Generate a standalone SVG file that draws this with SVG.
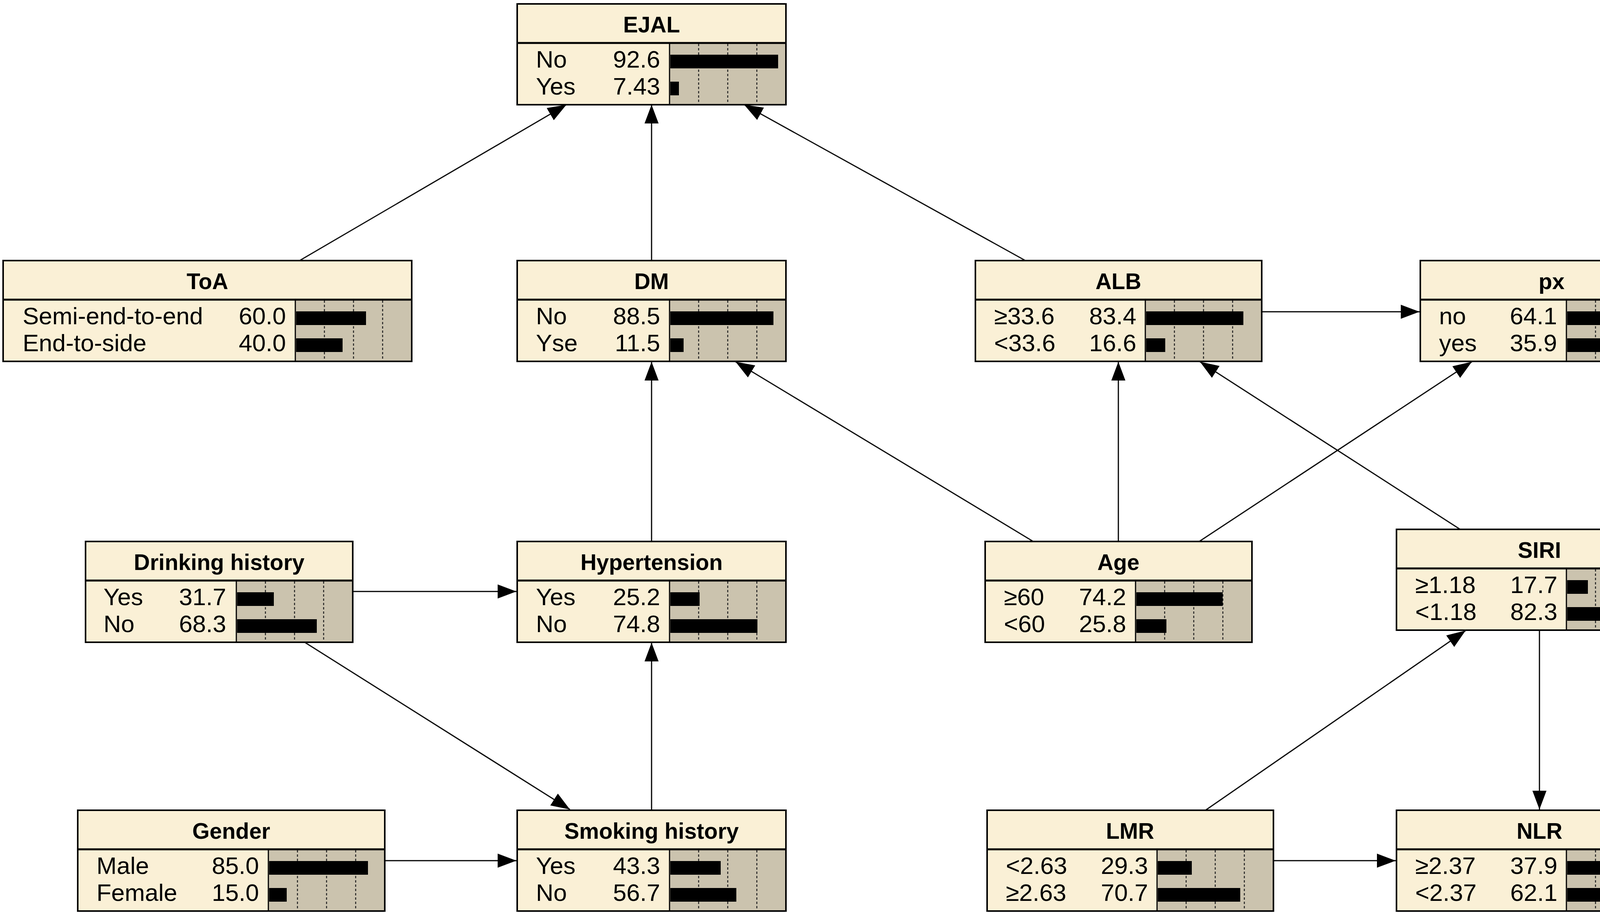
<svg xmlns="http://www.w3.org/2000/svg" width="4317" height="2337" viewBox="0 0 4317 2337">
<defs>
<style>
.bg{fill:#ffffff}
.nb{fill:#FAF0D6}
.bb{fill:#CBC3AE}
.frame{fill:none;stroke:#000;stroke-width:4}
.div{stroke:#000;stroke-width:5}
.sep{stroke:#000;stroke-width:3}
.grid{stroke:#222;stroke-width:2.5;stroke-dasharray:6 5}
.bar{fill:#000}
.t{font-family:"Liberation Sans",Arial,sans-serif;font-weight:bold;font-size:57px;fill:#000;text-anchor:middle}
.s{font-family:"Liberation Sans",Arial,sans-serif;font-size:62px;fill:#000}
.v{font-family:"Liberation Sans",Arial,sans-serif;font-size:62px;fill:#000;text-anchor:end}
.e{stroke:#000;stroke-width:3;fill:none;marker-end:url(#ah)}
</style>
<marker id="ah" markerUnits="userSpaceOnUse" markerWidth="50" markerHeight="36" refX="48" refY="18" orient="auto">
<path d="M0,0 L48,18 L0,36 Z" fill="#000"/>
</marker>
</defs>
<rect class="bg" x="0" y="0" width="4317" height="2337"/>

<g id="connectors">
<line class="e" x1="767" y1="667" x2="1450" y2="268"/>
<line class="e" x1="1668" y1="667" x2="1668" y2="268"/>
<line class="e" x1="2625" y1="667" x2="1905" y2="268"/>
<line class="e" x1="3230" y1="798" x2="3634" y2="798"/>
<line class="e" x1="1668" y1="1386" x2="1668" y2="926"/>
<line class="e" x1="2645" y1="1386" x2="1883" y2="926"/>
<line class="e" x1="2863" y1="1386" x2="2863" y2="926"/>
<line class="e" x1="3070" y1="1386" x2="3768" y2="926"/>
<line class="e" x1="3738" y1="1355" x2="3072" y2="926"/>
<line class="e" x1="903" y1="1514" x2="1322" y2="1514"/>
<line class="e" x1="780" y1="1644" x2="1459" y2="2072"/>
<line class="e" x1="1668" y1="2074" x2="1668" y2="1645"/>
<line class="e" x1="985" y1="2203" x2="1322" y2="2203"/>
<line class="e" x1="3086" y1="2074" x2="3752" y2="1614"/>
<line class="e" x1="3941" y1="1613" x2="3941" y2="2072"/>
<line class="e" x1="3260" y1="2203" x2="3573" y2="2203"/>
</g>

<g id="node-EJAL" transform="translate(1324,10)">
<rect class="nb" x="0" y="0" width="688" height="258"/>
<rect class="bb" x="390" y="100" width="298" height="158"/>
<line class="grid" x1="464.5" y1="102" x2="464.5" y2="256"/><line class="grid" x1="539" y1="102" x2="539" y2="256"/><line class="grid" x1="613.5" y1="102" x2="613.5" y2="256"/>
<rect class="bar" x="392" y="130" width="276" height="35"/><rect class="bar" x="392" y="199" width="22" height="35"/>
<line class="div" x1="0" y1="100" x2="688" y2="100"/><line class="sep" x1="390" y1="100" x2="390" y2="258"/>
<rect class="frame" x="0" y="0" width="688" height="258"/>
<text class="t" x="344" y="73">EJAL</text>
<text class="s" x="48" y="163">No</text><text class="v" x="366" y="163">92.6</text>
<text class="s" x="48" y="232">Yes</text><text class="v" x="366" y="232">7.43</text>
</g>

<g id="node-ToA" transform="translate(8,667)">
<rect class="nb" x="0" y="0" width="1046" height="258"/>
<rect class="bb" x="748" y="100" width="298" height="158"/>
<line class="grid" x1="822.5" y1="102" x2="822.5" y2="256"/><line class="grid" x1="897" y1="102" x2="897" y2="256"/><line class="grid" x1="971.5" y1="102" x2="971.5" y2="256"/>
<rect class="bar" x="750" y="130" width="179" height="35"/><rect class="bar" x="750" y="199" width="119" height="35"/>
<line class="div" x1="0" y1="100" x2="1046" y2="100"/><line class="sep" x1="748" y1="100" x2="748" y2="258"/>
<rect class="frame" x="0" y="0" width="1046" height="258"/>
<text class="t" x="523" y="73">ToA</text>
<text class="s" x="50" y="163">Semi-end-to-end</text><text class="v" x="724" y="163">60.0</text>
<text class="s" x="50" y="232">End-to-side</text><text class="v" x="724" y="232">40.0</text>
</g>

<g id="node-DM" transform="translate(1324,667)">
<rect class="nb" x="0" y="0" width="688" height="258"/>
<rect class="bb" x="390" y="100" width="298" height="158"/>
<line class="grid" x1="464.5" y1="102" x2="464.5" y2="256"/><line class="grid" x1="539" y1="102" x2="539" y2="256"/><line class="grid" x1="613.5" y1="102" x2="613.5" y2="256"/>
<rect class="bar" x="392" y="130" width="264" height="35"/><rect class="bar" x="392" y="199" width="34" height="35"/>
<line class="div" x1="0" y1="100" x2="688" y2="100"/><line class="sep" x1="390" y1="100" x2="390" y2="258"/>
<rect class="frame" x="0" y="0" width="688" height="258"/>
<text class="t" x="344" y="73">DM</text>
<text class="s" x="48" y="163">No</text><text class="v" x="366" y="163">88.5</text>
<text class="s" x="48" y="232">Yse</text><text class="v" x="366" y="232">11.5</text>
</g>

<g id="node-ALB" transform="translate(2497,667)">
<rect class="nb" x="0" y="0" width="733" height="258"/>
<rect class="bb" x="435" y="100" width="298" height="158"/>
<line class="grid" x1="509.5" y1="102" x2="509.5" y2="256"/><line class="grid" x1="584" y1="102" x2="584" y2="256"/><line class="grid" x1="658.5" y1="102" x2="658.5" y2="256"/>
<rect class="bar" x="437" y="130" width="249" height="35"/><rect class="bar" x="437" y="199" width="49" height="35"/>
<line class="div" x1="0" y1="100" x2="733" y2="100"/><line class="sep" x1="435" y1="100" x2="435" y2="258"/>
<rect class="frame" x="0" y="0" width="733" height="258"/>
<text class="t" x="366" y="73">ALB</text>
<text class="s" x="48" y="163">≥33.6</text><text class="v" x="412" y="163">83.4</text>
<text class="s" x="48" y="232">&lt;33.6</text><text class="v" x="412" y="232">16.6</text>
</g>

<g id="node-px" transform="translate(3636,667)">
<rect class="nb" x="0" y="0" width="672" height="258"/>
<rect class="bb" x="374" y="100" width="298" height="158"/>
<line class="grid" x1="448.5" y1="102" x2="448.5" y2="256"/><line class="grid" x1="523" y1="102" x2="523" y2="256"/><line class="grid" x1="597.5" y1="102" x2="597.5" y2="256"/>
<rect class="bar" x="376" y="130" width="191" height="35"/><rect class="bar" x="376" y="199" width="107" height="35"/>
<line class="div" x1="0" y1="100" x2="672" y2="100"/><line class="sep" x1="374" y1="100" x2="374" y2="258"/>
<rect class="frame" x="0" y="0" width="672" height="258"/>
<text class="t" x="336" y="73">px</text>
<text class="s" x="48" y="163">no</text><text class="v" x="350" y="163">64.1</text>
<text class="s" x="48" y="232">yes</text><text class="v" x="350" y="232">35.9</text>
</g>

<g id="node-Drinking-history" transform="translate(219,1386)">
<rect class="nb" x="0" y="0" width="684" height="258"/>
<rect class="bb" x="386" y="100" width="298" height="158"/>
<line class="grid" x1="460.5" y1="102" x2="460.5" y2="256"/><line class="grid" x1="535" y1="102" x2="535" y2="256"/><line class="grid" x1="609.5" y1="102" x2="609.5" y2="256"/>
<rect class="bar" x="388" y="130" width="94" height="35"/><rect class="bar" x="388" y="199" width="204" height="35"/>
<line class="div" x1="0" y1="100" x2="684" y2="100"/><line class="sep" x1="386" y1="100" x2="386" y2="258"/>
<rect class="frame" x="0" y="0" width="684" height="258"/>
<text class="t" x="342" y="73">Drinking history</text>
<text class="s" x="46" y="163">Yes</text><text class="v" x="360" y="163">31.7</text>
<text class="s" x="46" y="232">No</text><text class="v" x="360" y="232">68.3</text>
</g>

<g id="node-Hypertension" transform="translate(1324,1386)">
<rect class="nb" x="0" y="0" width="688" height="258"/>
<rect class="bb" x="390" y="100" width="298" height="158"/>
<line class="grid" x1="464.5" y1="102" x2="464.5" y2="256"/><line class="grid" x1="539" y1="102" x2="539" y2="256"/><line class="grid" x1="613.5" y1="102" x2="613.5" y2="256"/>
<rect class="bar" x="392" y="130" width="75" height="35"/><rect class="bar" x="392" y="199" width="223" height="35"/>
<line class="div" x1="0" y1="100" x2="688" y2="100"/><line class="sep" x1="390" y1="100" x2="390" y2="258"/>
<rect class="frame" x="0" y="0" width="688" height="258"/>
<text class="t" x="344" y="73">Hypertension</text>
<text class="s" x="48" y="163">Yes</text><text class="v" x="366" y="163">25.2</text>
<text class="s" x="48" y="232">No</text><text class="v" x="366" y="232">74.8</text>
</g>

<g id="node-Age" transform="translate(2522,1386)">
<rect class="nb" x="0" y="0" width="683" height="258"/>
<rect class="bb" x="385" y="100" width="298" height="158"/>
<line class="grid" x1="459.5" y1="102" x2="459.5" y2="256"/><line class="grid" x1="534" y1="102" x2="534" y2="256"/><line class="grid" x1="608.5" y1="102" x2="608.5" y2="256"/>
<rect class="bar" x="387" y="130" width="221" height="35"/><rect class="bar" x="387" y="199" width="77" height="35"/>
<line class="div" x1="0" y1="100" x2="683" y2="100"/><line class="sep" x1="385" y1="100" x2="385" y2="258"/>
<rect class="frame" x="0" y="0" width="683" height="258"/>
<text class="t" x="341" y="73">Age</text>
<text class="s" x="48" y="163">≥60</text><text class="v" x="361" y="163">74.2</text>
<text class="s" x="48" y="232">&lt;60</text><text class="v" x="361" y="232">25.8</text>
</g>

<g id="node-SIRI" transform="translate(3575,1355)">
<rect class="nb" x="0" y="0" width="733" height="258"/>
<rect class="bb" x="435" y="100" width="298" height="158"/>
<line class="grid" x1="509.5" y1="102" x2="509.5" y2="256"/><line class="grid" x1="584" y1="102" x2="584" y2="256"/><line class="grid" x1="658.5" y1="102" x2="658.5" y2="256"/>
<rect class="bar" x="437" y="130" width="53" height="35"/><rect class="bar" x="437" y="199" width="245" height="35"/>
<line class="div" x1="0" y1="100" x2="733" y2="100"/><line class="sep" x1="435" y1="100" x2="435" y2="258"/>
<rect class="frame" x="0" y="0" width="733" height="258"/>
<text class="t" x="366" y="73">SIRI</text>
<text class="s" x="48" y="163">≥1.18</text><text class="v" x="412" y="163">17.7</text>
<text class="s" x="48" y="232">&lt;1.18</text><text class="v" x="412" y="232">82.3</text>
</g>

<g id="node-Gender" transform="translate(199,2074)">
<rect class="nb" x="0" y="0" width="786" height="258"/>
<rect class="bb" x="488" y="100" width="298" height="158"/>
<line class="grid" x1="562.5" y1="102" x2="562.5" y2="256"/><line class="grid" x1="637" y1="102" x2="637" y2="256"/><line class="grid" x1="711.5" y1="102" x2="711.5" y2="256"/>
<rect class="bar" x="490" y="130" width="253" height="35"/><rect class="bar" x="490" y="199" width="45" height="35"/>
<line class="div" x1="0" y1="100" x2="786" y2="100"/><line class="sep" x1="488" y1="100" x2="488" y2="258"/>
<rect class="frame" x="0" y="0" width="786" height="258"/>
<text class="t" x="393" y="73">Gender</text>
<text class="s" x="48" y="163">Male</text><text class="v" x="464" y="163">85.0</text>
<text class="s" x="48" y="232">Female</text><text class="v" x="464" y="232">15.0</text>
</g>

<g id="node-Smoking-history" transform="translate(1324,2074)">
<rect class="nb" x="0" y="0" width="688" height="258"/>
<rect class="bb" x="390" y="100" width="298" height="158"/>
<line class="grid" x1="464.5" y1="102" x2="464.5" y2="256"/><line class="grid" x1="539" y1="102" x2="539" y2="256"/><line class="grid" x1="613.5" y1="102" x2="613.5" y2="256"/>
<rect class="bar" x="392" y="130" width="129" height="35"/><rect class="bar" x="392" y="199" width="169" height="35"/>
<line class="div" x1="0" y1="100" x2="688" y2="100"/><line class="sep" x1="390" y1="100" x2="390" y2="258"/>
<rect class="frame" x="0" y="0" width="688" height="258"/>
<text class="t" x="344" y="73">Smoking history</text>
<text class="s" x="48" y="163">Yes</text><text class="v" x="366" y="163">43.3</text>
<text class="s" x="48" y="232">No</text><text class="v" x="366" y="232">56.7</text>
</g>

<g id="node-LMR" transform="translate(2527,2074)">
<rect class="nb" x="0" y="0" width="733" height="258"/>
<rect class="bb" x="435" y="100" width="298" height="158"/>
<line class="grid" x1="509.5" y1="102" x2="509.5" y2="256"/><line class="grid" x1="584" y1="102" x2="584" y2="256"/><line class="grid" x1="658.5" y1="102" x2="658.5" y2="256"/>
<rect class="bar" x="437" y="130" width="87" height="35"/><rect class="bar" x="437" y="199" width="211" height="35"/>
<line class="div" x1="0" y1="100" x2="733" y2="100"/><line class="sep" x1="435" y1="100" x2="435" y2="258"/>
<rect class="frame" x="0" y="0" width="733" height="258"/>
<text class="t" x="366" y="73">LMR</text>
<text class="s" x="48" y="163">&lt;2.63</text><text class="v" x="412" y="163">29.3</text>
<text class="s" x="48" y="232">≥2.63</text><text class="v" x="412" y="232">70.7</text>
</g>

<g id="node-NLR" transform="translate(3575,2074)">
<rect class="nb" x="0" y="0" width="733" height="258"/>
<rect class="bb" x="435" y="100" width="298" height="158"/>
<line class="grid" x1="509.5" y1="102" x2="509.5" y2="256"/><line class="grid" x1="584" y1="102" x2="584" y2="256"/><line class="grid" x1="658.5" y1="102" x2="658.5" y2="256"/>
<rect class="bar" x="437" y="130" width="113" height="35"/><rect class="bar" x="437" y="199" width="185" height="35"/>
<line class="div" x1="0" y1="100" x2="733" y2="100"/><line class="sep" x1="435" y1="100" x2="435" y2="258"/>
<rect class="frame" x="0" y="0" width="733" height="258"/>
<text class="t" x="366" y="73">NLR</text>
<text class="s" x="48" y="163">≥2.37</text><text class="v" x="412" y="163">37.9</text>
<text class="s" x="48" y="232">&lt;2.37</text><text class="v" x="412" y="232">62.1</text>
</g>
</svg>
